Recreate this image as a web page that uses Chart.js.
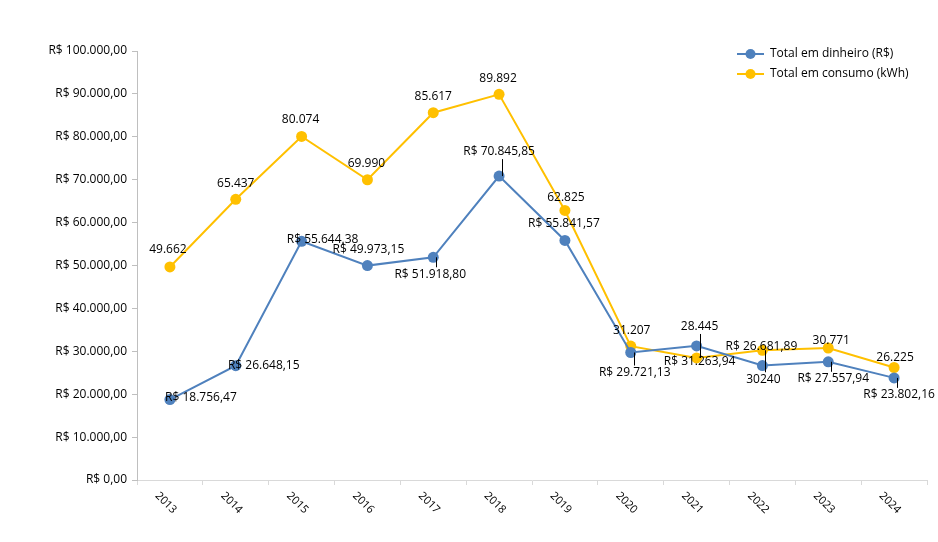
<!DOCTYPE html>
<html>
<head>
<meta charset="utf-8">
<script src="https://cdn.jsdelivr.net/npm/chart.js@4.4.1/dist/chart.umd.min.js"></script>
<style>
  html, body { margin: 0; padding: 0; background: #fff; }
  #wrap { width: 938px; height: 542px; }
</style>
</head>
<body>
<div id="wrap"><canvas id="myChart"></canvas></div>
<script>
'use strict';

let years = ['2013', '2014', '2015', '2016', '2017', '2018', '2019', '2020', '2021', '2022', '2023', '2024'];
let dinheiro = [18756.47, 26648.15, 55644.38, 49973.15, 51918.80, 70845.85, 55841.57, 29721.13, 31263.94, 26681.89, 27557.94, 23802.16];
let consumo = [49662, 65437, 80074, 69990, 85617, 89892, 62825, 31207, 28445, 30240, 30771, 26225];
let yTicks = [0, 10000, 20000, 30000, 40000, 50000, 60000, 70000, 80000, 90000, 100000];

// where each value label sits, relative to its point (px), and whether a leader line is drawn
let dinheiroLabelPos = [[31, -2], [28, 0], [21, -2], [1, -16], [-3, 17], [0, -24], [-1, -17], [4, 20], [3, 16], [-1, -19], [5, 17], [5, 17]];
let dinheiroLeader = [0, 0, 0, 0, 1, 1, 0, 1, 0, 0, 1, 1];
let consumoLabelPos = [[-2, -17], [0, -16], [-1, -17], [-1, -16], [0, -16], [-1, -16], [1, -13], [1, -16], [3, -31], [1, 29], [3, -7], [1, -10]];
let consumoLeader = [0, 0, 0, 0, 0, 0, 0, 0, 1, 1, 0, 0];

let blue = '#4F81BD';
let orange = '#FFC000';
let font = '"Open Sans", "Noto Sans", sans-serif';

function br(n, dec) {
    let parts = n.toFixed(dec).split('.');
    let int = parts[0].replace(/\B(?=(\d{3})+(?!\d))/g, '.');
    return dec ? int + ',' + parts[1] : int;
}
function money(n) { return 'R$ ' + br(n, 2); }
function kwh(n, i) { return i === 9 ? String(n) : br(n, 0); }

let labelsPlugin = {
    id: 'labels',
    afterDatasetsDraw(chart) {
        let ctx = chart.ctx;
        let xs = chart.scales.x;
        let area = chart.chartArea;
        ctx.save();
        ctx.font = '12px ' + font;
        ctx.fillStyle = '#000';
        ctx.textAlign = 'center';
        ctx.textBaseline = 'middle';

        let sets = [
            { meta: chart.getDatasetMeta(0), pos: dinheiroLabelPos, lead: dinheiroLeader, text: (v) => money(v), data: dinheiro },
            { meta: chart.getDatasetMeta(1), pos: consumoLabelPos, lead: consumoLeader, text: (v, i) => kwh(v, i), data: consumo }
        ];
        sets.forEach(s => {
            s.meta.data.forEach((pt, i) => {
                let dx = s.pos[i][0], dy = s.pos[i][1];
                let lx = pt.x + dx, ly = pt.y + dy;
                if (s.lead[i]) {
                    ctx.strokeStyle = '#000';
                    ctx.lineWidth = 1;
                    ctx.beginPath();
                    let lineX = Math.round(pt.x + 3) + 0.5;
                    ctx.moveTo(lineX, pt.y);
                    ctx.lineTo(lineX, dy > 0 ? ly - 7 : ly + 7);
                    ctx.stroke();
                }
                ctx.fillText(s.text(s.data[i], i), lx, ly);
            });
        });

        // rotated year labels
        ctx.font = '11px ' + font;
        ctx.textAlign = 'left';
        years.forEach((y, i) => {
            let px = xs.getPixelForValue(i);
            ctx.save();
            ctx.translate(px - 13, area.bottom + 14);
            ctx.rotate(Math.PI / 4);
            ctx.fillText(y, 0, 0);
            ctx.restore();
        });

        // legend
        ctx.font = '12px ' + font;
        let items = [['Total em dinheiro (R$)', blue, 54], ['Total em consumo (kWh)', orange, 74]];
        items.forEach(it => {
            ctx.strokeStyle = it[1];
            ctx.lineWidth = 2;
            ctx.beginPath();
            ctx.moveTo(737, it[2]);
            ctx.lineTo(764, it[2]);
            ctx.stroke();
            ctx.fillStyle = it[1];
            ctx.beginPath();
            ctx.arc(750.5, it[2], 5, 0, Math.PI * 2);
            ctx.fill();
            ctx.fillStyle = '#000';
            ctx.textAlign = 'left';
            ctx.fillText(it[0], 770, it[2]);
        });
        ctx.restore();
    }
};

let ctx = document.getElementById('myChart').getContext('2d');
let myChart = new Chart(ctx, {
    type: 'line',
    data: {
        labels: years,
        datasets: [{
            label: 'Total em dinheiro (R$)',
            data: dinheiro,
            borderColor: blue,
            backgroundColor: blue,
            borderWidth: 2,
            pointRadius: 5.5,
            pointBorderWidth: 0,
            tension: 0
        }, {
            label: 'Total em consumo (kWh)',
            data: consumo,
            borderColor: orange,
            backgroundColor: orange,
            borderWidth: 2,
            pointRadius: 5.5,
            pointBorderWidth: 0,
            tension: 0
        }]
    },
    options: {
        responsive: true,
        maintainAspectRatio: false,
        animation: false,
        layout: { padding: { top: 51, right: 11, left: 0, bottom: 0 } },
        plugins: {
            legend: { display: false },
            tooltip: { enabled: false }
        },
        scales: {
            x: {
                offset: true,
                grid: { offset: true, drawOnChartArea: false, drawTicks: true, tickLength: 5, color: '#d9d9d9' },
                border: { color: '#d9d9d9', width: 1 },
                ticks: { display: false },
                afterFit(s) { s.height = 62; }
            },
            y: {
                min: 0,
                max: 100000,
                afterBuildTicks(s) { s.ticks = yTicks.map(v => ({ value: v })); },
                grid: { drawOnChartArea: false, drawTicks: true, tickLength: 5, color: '#bfbfbf' },
                border: { color: '#bfbfbf', width: 1 },
                ticks: {
                    color: '#000',
                    font: { size: 12, family: font },
                    padding: 5,
                    callback: (v) => money(v)
                },
                afterFit(s) { s.width = 137; }
            }
        }
    },
    plugins: [labelsPlugin]
});
</script>
</body>
</html>
